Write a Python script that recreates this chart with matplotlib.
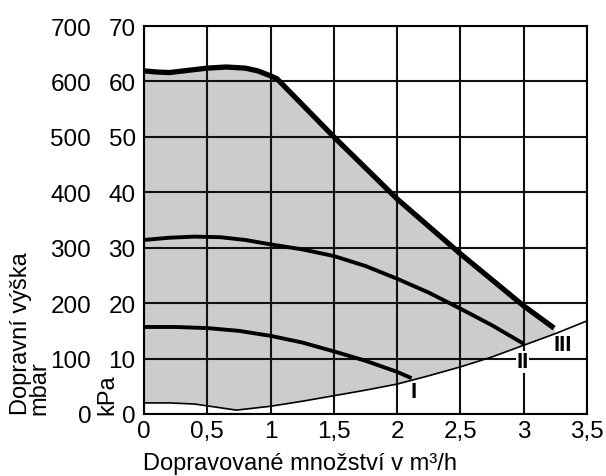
import matplotlib
matplotlib.use("Agg")
import matplotlib.pyplot as plt
import numpy as np

plt.rcParams['font.family'] = ['Liberation Sans', 'DejaVu Sans']

# Curve III (highest speed)
x_III = [0.0, 0.1, 0.2, 0.35, 0.5, 0.65, 0.8, 0.9, 1.0, 1.05, 1.2, 1.5, 2.0, 2.5, 3.0, 3.24]
y_III = [61.9, 61.7, 61.6, 62.0, 62.4, 62.6, 62.4, 61.9, 61.0, 60.5, 57.0, 50.0, 38.8, 28.9, 19.5, 15.5]
# Curve II
x_II = [0.0, 0.2, 0.4, 0.6, 0.8, 1.0, 1.25, 1.5, 1.75, 2.0, 2.25, 2.5, 2.75, 2.99]
y_II = [31.4, 31.8, 32.0, 31.9, 31.4, 30.6, 29.7, 28.5, 26.7, 24.4, 21.9, 19.0, 16.0, 12.8]
# Curve I
x_I = [0.0, 0.25, 0.5, 0.75, 1.0, 1.25, 1.5, 1.75, 2.0, 2.1]
y_I = [15.7, 15.7, 15.5, 15.0, 14.1, 12.9, 11.3, 9.6, 7.6, 6.6]
# Lower boundary (system curve)
x_low = [0.0, 0.2, 0.4, 0.55, 0.73, 1.0, 1.25, 1.5, 1.75, 2.0, 2.25, 2.5, 2.75, 3.0, 3.25, 3.5]
y_low = [2.0, 2.0, 1.8, 1.3, 0.7, 1.4, 2.3, 3.3, 4.3, 5.4, 6.9, 8.5, 10.3, 12.4, 14.5, 16.8]

x_ticks = [0, 0.5, 1, 1.5, 2, 2.5, 3, 3.5]
x_ticklabels = ["0", "0,5", "1", "1,5", "2", "2,5", "3", "3,5"]
kpa_ticks = [0, 10, 20, 30, 40, 50, 60, 70]
mbar_ticks = [0, 100, 200, 300, 400, 500, 600, 700]

fig = plt.figure(figsize=(6.06, 4.77), dpi=100)
ax = fig.add_axes([144/606, 62/477, 443/606, 388/477])

# grey operating area
xl = [x for x in x_low if x <= 3.25]
yl = [y for x, y in zip(x_low, y_low) if x <= 3.25]
poly_x = list(x_III) + xl[::-1]
poly_y = list(y_III) + yl[::-1]
ax.fill(poly_x, poly_y, color='#cccccc', lw=0, zorder=1)

ax.plot(x_III, y_III, color='black', lw=3.8, solid_capstyle='butt', zorder=3)
ax.plot(x_II, y_II, color='black', lw=2.8, zorder=3)
ax.plot(x_I, y_I, color='black', lw=2.8, zorder=3)
ax.plot(x_low, y_low, color='black', lw=1.2, zorder=3)

ax.set_xlim(0, 3.5)
ax.set_ylim(0, 70)
ax.set_xticks(x_ticks)
ax.set_xticklabels(x_ticklabels)
ax.set_yticks(kpa_ticks)
ax.grid(True, color='#111111', lw=1.5, zorder=1.5)
ax.tick_params(length=0, labelsize=17.5, pad=4)
ax.tick_params(axis='y', pad=6)
for s in ax.spines.values():
    s.set_linewidth(1.5)

sec = ax.secondary_yaxis('left', functions=(lambda v: v * 10, lambda v: v / 10))
sec.set_yticks(mbar_ticks)
sec.tick_params(length=0, labelsize=17.5, pad=38)
sec.spines['left'].set_visible(False)

ax.text(2.13, 4.1, "I", fontsize=16, fontweight='bold', ha='center', va='center', zorder=5)
ax.text(2.99, 9.4, "II", fontsize=16, fontweight='bold', ha='center', va='center', zorder=5,
        bbox=dict(facecolor='white', edgecolor='none', pad=0.5))
ax.text(3.31, 12.6, "III", fontsize=16, fontweight='bold', ha='center', va='center', zorder=5)

fig.text(300/606, 2/477, "Dopravované množství v m³/h", fontsize=17,
         ha='center', va='bottom')
fig.text(10/606, 62/477, "Dopravní výška\nmbar", fontsize=17, rotation=90,
         ha='left', va='bottom', multialignment='left', linespacing=0.78)
fig.text(96/606, 62/477, "kPa", fontsize=17, rotation=90, ha='left', va='bottom')

fig.savefig("out.png", dpi=100)
